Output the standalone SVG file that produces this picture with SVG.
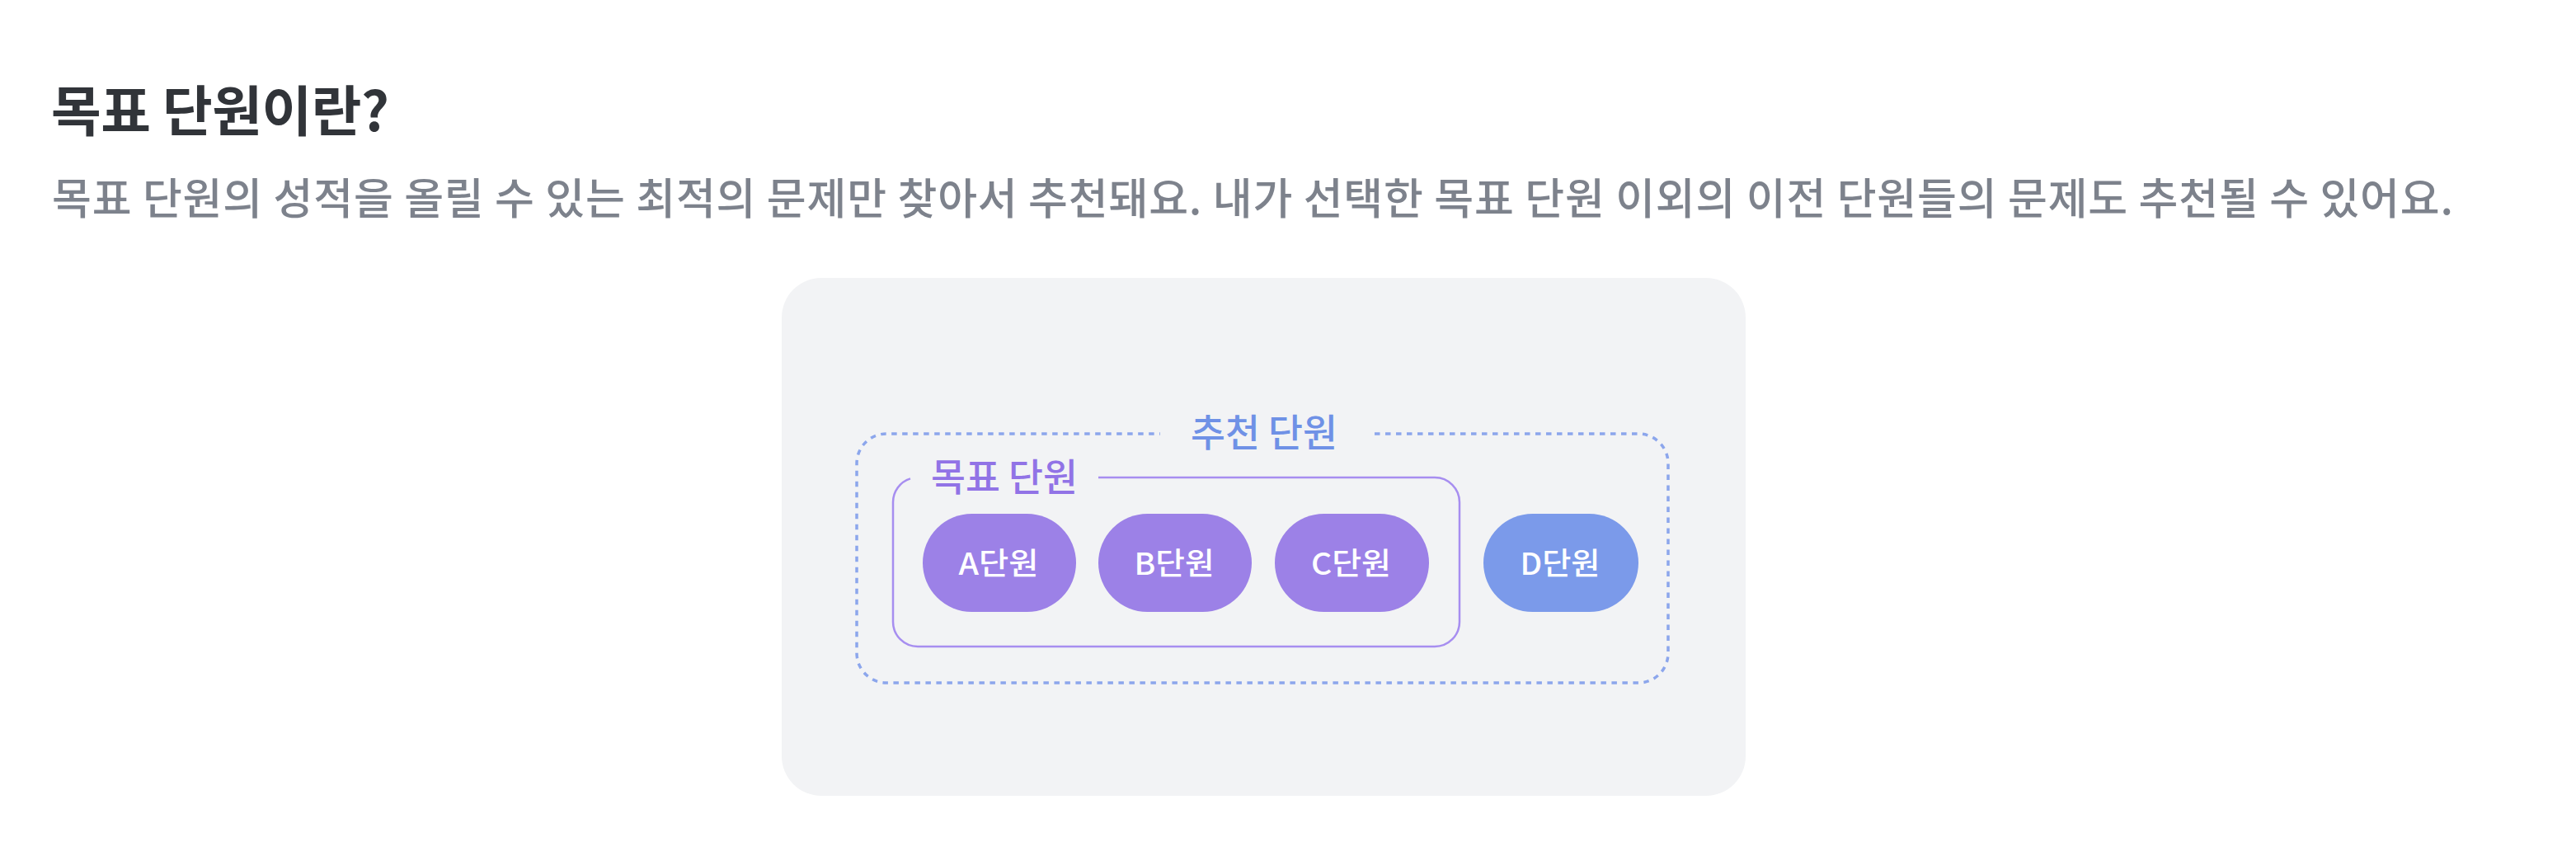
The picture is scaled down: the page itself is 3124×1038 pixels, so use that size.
<svg xmlns="http://www.w3.org/2000/svg" width="3124" height="1038" viewBox="0 0 3124 1038">
  <style>
    .kr { font-family: "Noto Sans CJK KR", "Noto Sans", "Liberation Sans", sans-serif; }
    .title { font-size: 66px; font-weight: 700; fill: #313439; }
    .sub { font-size: 52px; font-weight: 500; fill: #7d828c; }
    .grp-label { font-size: 46px; font-weight: 500; text-anchor: middle; }
    .pill-text { font-size: 37px; font-weight: 500; fill: #ffffff; text-anchor: middle; }
    .pill-target { fill: #9c81e7; }
    .pill-other { fill: #7b9aea; }
  </style>
  <rect x="0" y="0" width="3124" height="1038" fill="#ffffff"/>

  <g id="heading">
    <text class="kr title" x="62" y="159" textLength="410" lengthAdjust="spacing">목표 단원이란?</text>
    <text class="kr sub" x="63" y="260" textLength="2912" lengthAdjust="spacing">목표 단원의 성적을 올릴 수 있는 최적의 문제만 찾아서 추천돼요. 내가 선택한 목표 단원 이외의 이전 단원들의 문제도 추천될 수 있어요.</text>
  </g>

  <g id="card">
    <rect x="948" y="337" width="1169" height="628" rx="48" ry="48" fill="#f2f3f5"/>
  </g>

  <g id="recommended-group">
    <path d="M1667,526 H1987 A36,36 0 0 1 2023,562 V792 A36,36 0 0 1 1987,828 H1075 A36,36 0 0 1 1039,792 V562 A36,36 0 0 1 1075,526 H1407" fill="none" stroke="#8ca6ec" stroke-width="3.5" stroke-dasharray="6.5 6.5"/>
    <text class="kr grp-label" x="1533" y="541" fill="#6f91e6" textLength="178" lengthAdjust="spacingAndGlyphs">추천 단원</text>
  </g>

  <g id="target-group">
    <path d="M1332,579 H1740 A30,30 0 0 1 1770,609 V754 A30,30 0 0 1 1740,784 H1113 A30,30 0 0 1 1083,754 V609 A30,30 0 0 1 1104,580.4" fill="none" stroke="#a78ef0" stroke-width="2.5"/>
    <text class="kr grp-label" x="1218" y="595" fill="#9173e6" textLength="178" lengthAdjust="spacingAndGlyphs">목표 단원</text>
  </g>

  <g id="unit-a">
    <rect class="pill-target" x="1119" y="623" width="186" height="119" rx="59.5" ry="59.5"/>
    <text class="kr pill-text" x="1211" y="697" textLength="97" lengthAdjust="spacingAndGlyphs">A단원</text>
  </g>
  <g id="unit-b">
    <rect class="pill-target" x="1332" y="623" width="186" height="119" rx="59.5" ry="59.5"/>
    <text class="kr pill-text" x="1424" y="697" textLength="97" lengthAdjust="spacingAndGlyphs">B단원</text>
  </g>
  <g id="unit-c">
    <rect class="pill-target" x="1546" y="623" width="187" height="119" rx="59.5" ry="59.5"/>
    <text class="kr pill-text" x="1638.5" y="697" textLength="97" lengthAdjust="spacingAndGlyphs">C단원</text>
  </g>
  <g id="unit-d">
    <rect class="pill-other" x="1799" y="623" width="188" height="119" rx="59.5" ry="59.5"/>
    <text class="kr pill-text" x="1892" y="697" textLength="97" lengthAdjust="spacingAndGlyphs">D단원</text>
  </g>

  <g id="connectors"></g>
</svg>
